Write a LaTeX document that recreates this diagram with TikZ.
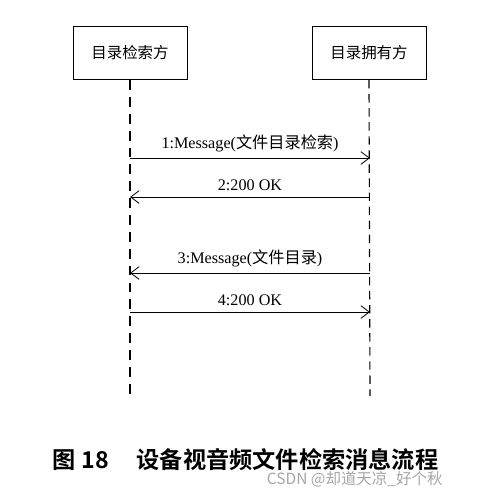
\documentclass[tikz,border=0pt]{standalone}
\usepackage{fontspec}
\setmainfont{Liberation Serif}
\newfontfamily\cjk{Noto Sans CJK SC}
\newfontfamily\cjkb{Noto Sans CJK SC Bold}
\usetikzlibrary{arrows.meta}

\tikzset{
  party/.style={draw,line width=0.6pt,minimum width=2.85cm,minimum height=1.33cm,font=\fontsize{11}{13}\selectfont\cjk},
  lifeA/.style={line width=1.5pt,dash pattern=on 7pt off 5pt},
  lifeB/.style={line width=0.8pt,dash pattern=on 6pt off 4pt},
  msg/.style={line width=0.6pt,-{Straight Barb[length=6pt,width=9pt]}},
  msglabel/.style={midway,above=1pt,font=\fontsize{11.5}{13}\selectfont}
}

\begin{document}
\begin{tikzpicture}[x=0.025cm,y=-0.025cm]
        \useasboundingbox (0,0) rectangle (488,489);
        % the two parties
        \node[party] (seeker) at (130,53) {目录检索方};
        \node[party] (owner) at (369,53) {目录拥有方};
        \coordinate (seekerEnd) at (130,400);
        \coordinate (ownerEnd) at (370,396);
        \draw[lifeA] (seeker.south) -- (seekerEnd);
        \draw[lifeB] (owner.south) -- (ownerEnd);
        % messages
        \coordinate (s1) at (130,158); \coordinate (o1) at (370,158);
        \coordinate (s2) at (130,197); \coordinate (o2) at (370,197);
        \coordinate (s3) at (130,273); \coordinate (o3) at (370,273);
        \coordinate (s4) at (130,312); \coordinate (o4) at (370,312);
        \draw[msg] (s1) -- (o1) node[msglabel]{1:Message({\cjk 文件目录检索})};
        \draw[msg] (o2) -- (s2) node[msglabel]{2:200 OK};
        \draw[msg] (o3) -- (s3) node[msglabel]{3:Message({\cjk 文件目录})};
        \draw[msg] (s4) -- (o4) node[msglabel]{4:200 OK};
        % caption
        \node[anchor=west,font=\fontsize{16.5}{18}\selectfont\cjkb] (caption) at (48,460) {图 18\hspace{1.2em}设备视音频文件检索消息流程};
        \node[anchor=west,text=black!35,font=\fontsize{11}{13}\selectfont\cjk] (mark) at (262,479) {CSDN @却道天凉\_好个秋};
\end{tikzpicture}
\end{document}
